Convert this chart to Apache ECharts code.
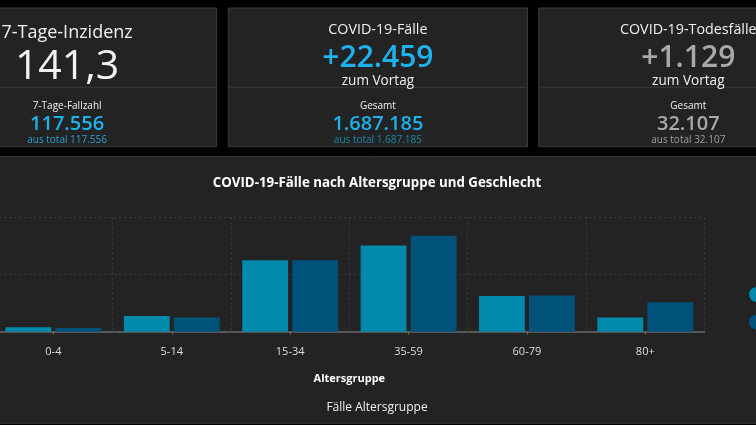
<!DOCTYPE html>
<html>
<head>
<meta charset="utf-8">
<script src="https://cdn.jsdelivr.net/npm/echarts@6/dist/echarts.min.js"></script>
<style>
html,body{margin:0;padding:0;background:#000;overflow:hidden;}
#c{position:absolute;left:-30px;top:0;width:786px;height:425px;}
</style>
</head>
<body>
<div id="c"></div>
<script>
// ---- data ----
var categories = ['0-4', '5-14', '15-34', '35-59', '60-79', '80+'];
var seriesNames = ['männlich', 'weiblich'];
var maleValues = [15400, 55000, 250000, 302000, 125000, 50000];
var femaleValues = [13000, 50000, 250000, 336000, 127000, 103000];
var yTicks = [0, 200000, 400000];

var cardTitles = ['7-Tage-Inzidenz', 'COVID-19-Fälle', 'COVID-19-Todesfälle'];
var cardMain = ['141,3', '+22.459', '+1.129'];
var cardSub = ['', 'zum Vortag', 'zum Vortag'];
var cardLabel = ['7-Tage-Fallzahl', 'Gesamt', 'Gesamt'];
var cardValue = ['117.556', '1.687.185', '32.107'];
var cardTotal = ['aus total 117.556', 'aus total 1.687.185', 'aus total 32.107'];

var chartTitle = 'COVID-19-Fälle nach Altersgruppe und Geschlecht';
var xAxisName = 'Altersgruppe';
var footerText = 'Fälle Altersgruppe';

// ---- layout ----
var OFF = 30; // chart canvas is shifted left by OFF px
var FONT = '"Open Sans", "Noto Sans", sans-serif';
var cardX = [-82.5, 228.3, 538.7];
var cardW = 299.2;
var mainColor = ['#f2f2f2', '#1db2ec', '#a9a9a9'];
var valColor = ['#1db2ec', '#1db2ec', '#a9a9a9'];
var totColor = ['#2a9fd6', '#1a88a8', '#a0a0a0'];

var graphics = [];
for (var i = 0; i < 3; i++) {
  var x0 = cardX[i] + OFF;
  var cx = x0 + cardW / 2;
  graphics.push({type: 'rect', shape: {x: x0, y: 8, width: cardW, height: 138.7},
    style: {fill: '#232323', stroke: '#3a3a3a', lineWidth: 1}, z: 0});
  graphics.push({type: 'line', shape: {x1: x0 + 1, y1: 87.3, x2: x0 + cardW - 1, y2: 87.3},
    style: {stroke: '#3a3a3a', lineWidth: 1}, z: 1});
  graphics.push({type: 'text', x: cx, y: i === 0 ? 33 : 30, z: 2,
    style: {text: cardTitles[i], fill: '#f0f0f0', font: (i === 0 ? '18px ' : '14.3px ') + FONT,
      textAlign: 'center', textVerticalAlign: 'middle'}});
  graphics.push({type: 'text', x: cx, y: i === 0 ? 67.5 : 58.5, z: 2,
    style: {text: cardMain[i], fill: mainColor[i],
      font: (i === 0 ? 'normal 41px ' : '600 30px ') + FONT,
      textAlign: 'center', textVerticalAlign: 'middle'}});
  if (cardSub[i]) {
    graphics.push({type: 'text', x: cx, y: 81, z: 2,
      style: {text: cardSub[i], fill: '#f0f0f0', font: '13.6px ' + FONT,
        textAlign: 'center', textVerticalAlign: 'middle'}});
  }
  graphics.push({type: 'text', x: cx, y: 106, z: 2,
    style: {text: cardLabel[i], fill: '#f0f0f0', font: '10px ' + FONT,
      textAlign: 'center', textVerticalAlign: 'middle'}});
  graphics.push({type: 'text', x: cx, y: 124, z: 2,
    style: {text: cardValue[i], fill: valColor[i], font: '600 20px ' + FONT,
      textAlign: 'center', textVerticalAlign: 'middle'}});
  graphics.push({type: 'text', x: cx, y: 140.5, z: 2,
    style: {text: cardTotal[i], fill: totColor[i], font: '10px ' + FONT,
      textAlign: 'center', textVerticalAlign: 'middle'}});
}
// chart panel
graphics.push({type: 'rect', shape: {x: OFF - 10, y: 156.7, width: 790, height: 266.6},
  style: {fill: '#232323', stroke: '#3a3a3a', lineWidth: 1}, z: -1});
graphics.push({type: 'text', x: 377 + OFF, y: 408, z: 2,
  style: {text: footerText, fill: '#f0f0f0', font: '12px ' + FONT,
    textAlign: 'center', textVerticalAlign: 'middle'}});

var chart = echarts.init(document.getElementById('c'));
chart.setOption({
  backgroundColor: '#000',
  animation: false,
  textStyle: {fontFamily: FONT},
  title: {
    text: chartTitle, left: 372 + OFF, textAlign: 'center', top: 172,
    textStyle: {color: '#ffffff', fontSize: 13.3, fontWeight: 'bold', fontFamily: FONT}
  },
  legend: {
    orient: 'vertical', left: 744 + OFF, top: 282, icon: 'circle',
    itemWidth: 15, itemHeight: 15, itemGap: 12.5,
    data: seriesNames,
    textStyle: {color: '#f0f0f0', fontSize: 12}
  },
  grid: {left: OFF - 5.8, right: 51.5, top: 217.5, bottom: 93.3, containLabel: false},
  xAxis: {
    type: 'category', data: categories,
    name: xAxisName, nameLocation: 'middle', nameGap: 42,
    nameTextStyle: {color: '#ffffff', fontSize: 11, fontWeight: 'bold', fontFamily: FONT},
    axisLine: {lineStyle: {color: '#6a6a6a', width: 1.5}},
    axisTick: {show: true, alignWithLabel: true, length: 3, lineStyle: {color: '#6a6a6a'}},
    axisLabel: {color: '#dddddd', fontSize: 11, margin: 15, fontFamily: FONT},
    splitLine: {show: true, lineStyle: {color: '#3a3a3a', type: [2, 3]}}
  },
  yAxis: {
    type: 'value', min: yTicks[0], max: yTicks[yTicks.length - 1], interval: yTicks[1] - yTicks[0],
    axisLabel: {show: false}, axisLine: {show: false}, axisTick: {show: false},
    splitLine: {lineStyle: {color: '#3a3a3a', type: [2, 3]}}
  },
  series: [
    {name: seriesNames[0], type: 'bar', data: maleValues, barGap: '9%', barCategoryGap: '19%',
      itemStyle: {color: '#0088ad'}},
    {name: seriesNames[1], type: 'bar', data: femaleValues,
      itemStyle: {color: '#00527a'}}
  ],
  graphic: graphics
});
</script>
</body>
</html>
